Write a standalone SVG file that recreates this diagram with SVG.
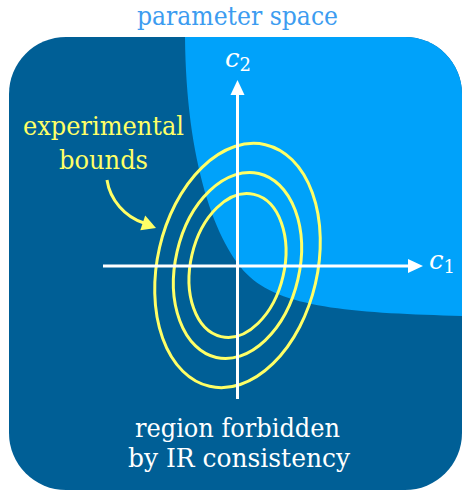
<svg xmlns="http://www.w3.org/2000/svg" width="462" height="490" viewBox="0 0 462 490">
  <defs>
    <style>
      text { font-family: 'DejaVu Serif', 'Liberation Serif', serif; }
      .lbl { font-size: 26px; text-anchor: middle; }
      .math { font-style: italic; font-size: 26px; fill: #ffffff; }
      .sub { font-size: 18px; fill: #ffffff; font-style: normal; }
      .ell { fill: none; stroke: #ffff66; stroke-width: 3; }
      .axis { stroke: #ffffff; stroke-width: 3; fill: none; }
    </style>
    <clipPath id="boxclip">
      <rect x="9" y="37" width="453" height="453" rx="57" ry="57"/>
    </clipPath>
  </defs>

  <g id="title">
    <text class="lbl" x="237.5" y="25" fill="#3c9cf0" textLength="201" lengthAdjust="spacingAndGlyphs">parameter space</text>
  </g>

  <g id="space">
    <rect x="9" y="37" width="453" height="453" rx="57" ry="57" fill="#005f96"/>
    <path clip-path="url(#boxclip)" fill="#00a2fa" d="M185,30 L185,37 C186,160 215,245 250,277 C285,309 360,313 462,316 L470,317 L470,30 Z"/>
  </g>

  <g id="bounds-ellipses">
    <ellipse class="ell" cx="237.5" cy="265.5" rx="80" ry="124" transform="rotate(13 237.5 265.5)"/>
    <ellipse class="ell" cx="237.5" cy="265.5" rx="62" ry="94.4" transform="rotate(13 237.5 265.5)"/>
    <ellipse class="ell" cx="237.5" cy="265.5" rx="46.8" ry="73" transform="rotate(13 237.5 265.5)"/>
  </g>

  <g id="connectors">
    <line class="axis" x1="103" y1="266" x2="410" y2="266"/>
    <polygon fill="#ffffff" points="423,266 408,259 408,273"/>
    <line class="axis" x1="237.5" y1="399" x2="237.5" y2="93"/>
    <polygon fill="#ffffff" points="237.5,80 230.5,95 244.5,95"/>
    <path d="M107,180 C110,200 125,217 144,223" fill="none" stroke="#ffff66" stroke-width="3"/>
    <polygon fill="#ffff66" points="156,228 145.2,215.4 140.3,230.2"/>
  </g>

  <g id="c1-label">
    <text class="math" x="429" y="269">c<tspan class="sub" dy="4">1</tspan></text>
  </g>
  <g id="c2-label">
    <text class="math" x="225" y="67">c<tspan class="sub" dy="4">2</tspan></text>
  </g>

  <g id="experimental-bounds">
    <text class="lbl" x="103.5" y="135" fill="#ffff66" textLength="161" lengthAdjust="spacingAndGlyphs">experimental</text>
    <text class="lbl" x="103.5" y="169" fill="#ffff66" textLength="89" lengthAdjust="spacingAndGlyphs">bounds</text>
  </g>

  <g id="forbidden-label">
    <text class="lbl" x="237.5" y="437" fill="#ffffff" textLength="205" lengthAdjust="spacingAndGlyphs">region forbidden</text>
    <text class="lbl" x="239" y="467" fill="#ffffff" textLength="222" lengthAdjust="spacingAndGlyphs">by IR consistency</text>
  </g>
</svg>
